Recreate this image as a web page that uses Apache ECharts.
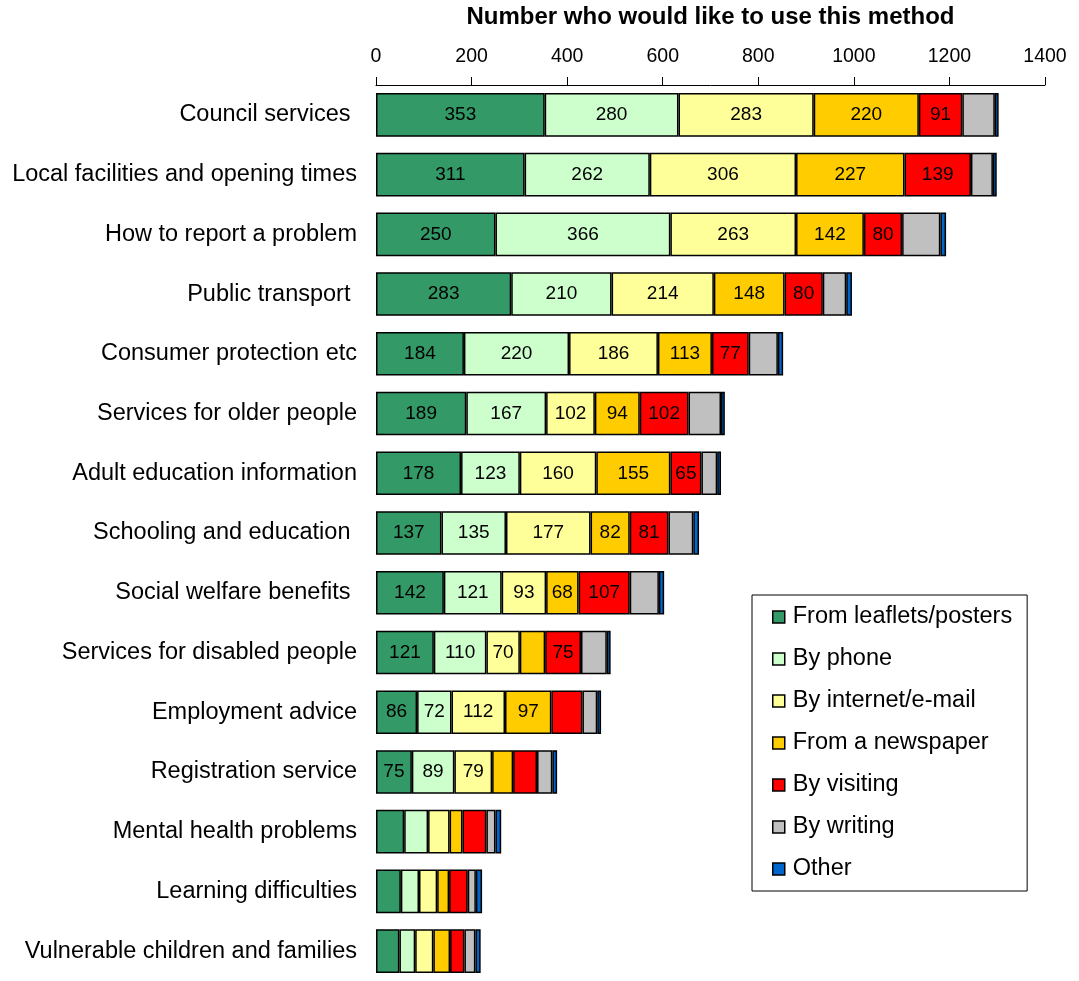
<!DOCTYPE html>
<html>
<head>
<meta charset="utf-8">
<script src="https://cdn.jsdelivr.net/npm/echarts@6/dist/echarts.min.js"></script>
<style>html,body{margin:0;padding:0;background:#fff}#c{width:1079px;height:981px}</style>
</head>
<body>
<div id="c"></div>
<script>
const categories = ["Council services ", "Local facilities and opening times", "How to report a problem", "Public transport ", "Consumer protection etc", "Services for older people", "Adult education information", "Schooling and education ", "Social welfare benefits ", "Services for disabled people", "Employment advice", "Registration service", "Mental health problems", "Learning difficulties", "Vulnerable children and families"];
const seriesNames = ["From leaflets/posters", "By phone", "By internet/e-mail", "From a newspaper", "By visiting", "By writing", "Other"];
const leaflets  = [353, 311, 250, 283, 184, 189, 178, 137, 142, 121, 86, 75, 59, 52, 49];
const phone     = [280, 262, 366, 210, 220, 167, 123, 135, 121, 110, 72, 89, 50, 38, 33];
const internet  = [283, 306, 263, 214, 186, 102, 160, 177, 93, 70, 112, 79, 45, 38, 38];
const newspaper = [220, 227, 142, 148, 113, 94, 155, 82, 68, 53, 97, 44, 27, 25, 35];
const visiting  = [91, 139, 80, 80, 77, 102, 65, 81, 107, 75, 65, 50, 50, 39, 30];
const writing   = [68, 46, 80, 49, 61, 68, 33, 52, 61, 54, 31, 32, 19, 17, 23];
const other     = [8, 8, 12, 12, 11, 8, 8, 12, 11, 8, 8, 10, 12, 13, 11];
// which values carry a printed label (1 = shown), per series, per category
const labelShown = [
  [1,1,1,1,1,1,1,1,1,1,1,1,0,0,0],
  [1,1,1,1,1,1,1,1,1,1,1,1,0,0,0],
  [1,1,1,1,1,1,1,1,1,1,1,1,0,0,0],
  [1,1,1,1,1,1,1,1,1,0,1,0,0,0,0],
  [1,1,1,1,1,1,1,1,1,1,0,0,0,0,0],
  [0,0,0,0,0,0,0,0,0,0,0,0,0,0,0],
  [0,0,0,0,0,0,0,0,0,0,0,0,0,0,0]
];
const xTicks = {min: 0, max: 1400, interval: 200};
const colors = ["#339966", "#CCFFCC", "#FFFF99", "#FFCC00", "#FF0000", "#C0C0C0", "#0066CC"];
const allValues = [leaflets, phone, internet, newspaper, visiting, writing, other];

const FONT = "'Liberation Sans', Arial, sans-serif";
const chart = echarts.init(document.getElementById('c'), null, {renderer: 'canvas'});
const series = seriesNames.map((name, si) => ({
  name: name,
  type: 'bar',
  stack: 'total',
  barCategoryGap: '27%',
  itemStyle: {color: colors[si], borderColor: '#000', borderWidth: 1.5},
  label: {show: true, position: 'inside', color: '#000', fontSize: 19, fontFamily: FONT},
  emphasis: {disabled: true},
  data: allValues[si].map((v, ci) => ({value: v, label: {show: labelShown[si][ci] === 1}}))
}));

chart.setOption({
  animation: false,
  backgroundColor: '#fff',
  textStyle: {fontFamily: FONT},
  grid: {left: 376, right: 34, top: 85, height: 902, containLabel: false},
  legend: {
    orient: 'vertical',
    left: 752, top: 595,
    data: seriesNames,
    backgroundColor: '#fff',
    borderColor: '#000', borderWidth: 1,
    padding: [10, 15, 10, 20],
    itemWidth: 12, itemHeight: 12, itemGap: 18,
    icon: 'rect',
    itemStyle: {borderColor: '#000', borderWidth: 1.5},
    textStyle: {fontSize: 23.5, color: '#000', fontFamily: FONT, lineHeight: 24, padding: [0, 0, 0, 3]}
  },
  xAxis: {
    type: 'value', position: 'top',
    min: xTicks.min, max: xTicks.max, interval: xTicks.interval,
    name: 'Number who would like to use this method',
    nameLocation: 'middle', nameGap: 56,
    nameTextStyle: {fontSize: 24, fontWeight: 'bold', color: '#000', fontFamily: FONT},
    axisLine: {show: true, lineStyle: {color: '#000', width: 1}},
    axisTick: {show: true, length: 8, lineStyle: {color: '#000'}},
    axisLabel: {fontSize: 19.5, color: '#000', margin: 18, fontFamily: FONT, formatter: v => String(v)},
    splitLine: {show: false}
  },
  yAxis: {
    type: 'category', inverse: true, data: categories,
    axisLine: {show: false}, axisTick: {show: false},
    axisLabel: {fontSize: 23.5, color: '#000', margin: 19, fontFamily: FONT, padding: [4, 0, 0, 0]}
  },
  series: series
});
</script>
</body>
</html>
